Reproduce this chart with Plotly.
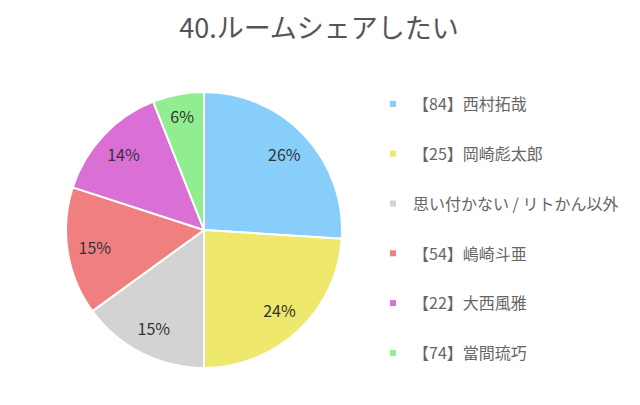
import plotly.graph_objects as go

# ---------- data ----------
title = "40.ルームシェアしたい"
labels = [
    "【84】西村拓哉",
    "【25】岡崎彪太郎",
    "思い付かない / リトかん以外",
    "【54】嶋崎斗亜",
    "【22】大西風雅",
    "【74】當間琉巧",
]
values = [26, 24, 15, 15, 14, 6]
colors = ["#87cefa", "#eee86c", "#d3d3d3", "#f08080", "#da70d6", "#90ee90"]

font_family = "Noto Sans CJK JP, Noto Sans, sans-serif"

# page body has an 8px margin, so positions below are shifted by -8px
pie_domain = dict(x=[58 / 640, 334 / 640], y=[45 / 405, 321 / 405])

fig = go.Figure()

fig.add_trace(go.Pie(
    labels=labels, values=values,
    sort=False, direction="clockwise", rotation=0,
    marker=dict(colors=colors, line=dict(color="white", width=2)),
    textinfo="none",
    domain=pie_domain,
    showlegend=False, hoverinfo="label+percent",
))

# transparent ring on top, only to put the % labels at ~0.8 radius
fig.add_trace(go.Pie(
    labels=labels, values=values,
    sort=False, direction="clockwise", rotation=0, hole=0.6,
    marker=dict(colors=["rgba(0,0,0,0)"] * len(values), line=dict(width=0)),
    texttemplate="%{value}%", textposition="inside",
    insidetextorientation="horizontal",
    insidetextfont=dict(size=16, color="#333333", family=font_family),
    domain=pie_domain,
    showlegend=False, hoverinfo="skip",
))

# legend entries as separate groups so the gap between them can be set
for i, (lab, col) in enumerate(zip(labels, colors)):
    fig.add_trace(go.Scatter(
        x=[None], y=[None], mode="markers", name=lab,
        legendgroup=f"g{i}",
        marker=dict(symbol="square", size=6, color=col),
    ))

fig.update_layout(
    width=640, height=405,
    margin=dict(l=0, r=0, t=0, b=0),
    paper_bgcolor="white", plot_bgcolor="white",
    font=dict(family=font_family, color="#555555"),
    title=dict(text=title, x=311 / 640, xanchor="center", y=1 - 21 / 405, yanchor="middle",
               font=dict(size=27, color="#555555", family=font_family)),
    legend=dict(
        x=365 / 640, xanchor="left", y=1 - 79 / 405, yanchor="top",
        font=dict(size=16, color="#666666", family=font_family),
        tracegroupgap=26, itemwidth=30, bgcolor="rgba(0,0,0,0)",
    ),
    xaxis=dict(visible=False), yaxis=dict(visible=False),
)

fig.write_html("out.html")
